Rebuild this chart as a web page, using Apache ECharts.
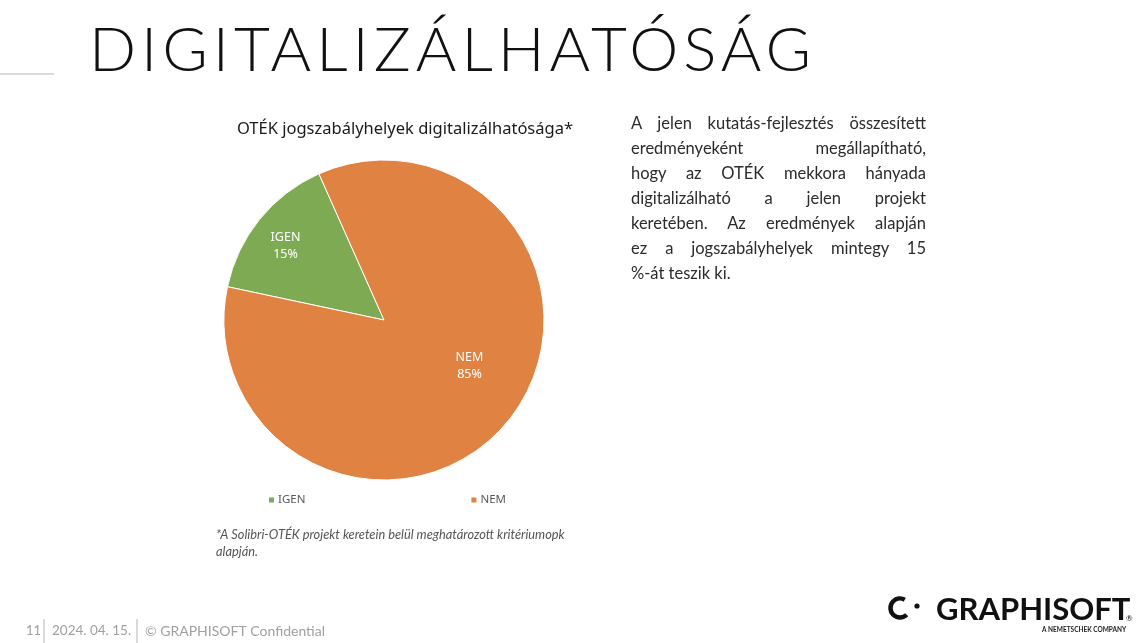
<!DOCTYPE html>
<html>
<head>
<meta charset="utf-8">
<script src="https://cdn.jsdelivr.net/npm/echarts@6/dist/echarts.min.js"></script>
<style>
  html, body { margin:0; padding:0; background:#fff; }
  #wrap { position:relative; width:1148px; height:643px; overflow:hidden; }
  #chart { position:absolute; left:0; top:0; width:1148px; height:643px; }
  #headline { position:absolute; left:89px; top:12px; font-family:Lato, "Open Sans", sans-serif; font-weight:300; font-size:62px; letter-spacing:5px; color:#111; line-height:70px; white-space:nowrap; }
  #para { position:absolute; left:631px; top:111px; width:295px; font-family:Lato, "Noto Sans", sans-serif; font-size:16.5px; line-height:25px; color:#2b2b2b; }
  #para div { text-align:justify; text-align-last:justify; }
  #para div.last { text-align-last:left; }
</style>
</head>
<body>
<div id="wrap">
  <div id="chart"></div>
  <div id="headline">DIGITALIZÁLHATÓSÁG</div>
  <div id="para">
    <div>A jelen kutatás-fejlesztés összesített</div>
    <div>eredményeként megállapítható,</div>
    <div>hogy az OTÉK mekkora hányada</div>
    <div>digitalizálható a jelen projekt</div>
    <div>keretében. Az eredmények alapján</div>
    <div>ez a jogszabályhelyek mintegy 15</div>
    <div class="last">%-át teszik ki.</div>
  </div>
</div>
<script>
// ---- data ----
const categories = ['IGEN', 'NEM'];
const values = [15, 85];
const sliceColors = ['#7DAA53', '#E08241'];
const chartTitle = 'OTÉK jogszabályhelyek digitalizálhatósága*';
const footnoteLines = ['*A Solibri-OTÉK projekt keretein belül meghatározott kritériumopk', 'alapján.'];
const footerText = ['11', '2024. 04. 15.', '© GRAPHISOFT Confidential'];

const chart = echarts.init(document.getElementById('chart'), null, { renderer: 'canvas' });

// label nudges (style only), per slice index
const labelNudge = [[-34, -22], [21, -6]];

const option = {
  backgroundColor: '#ffffff',
  animation: false,
  title: {
    text: chartTitle,
    left: 400, top: 116, textAlign: 'center',
    textStyle: { fontFamily: '"Noto Sans", sans-serif', fontSize: 16.5, fontWeight: 'normal', color: '#1a1a1a' }
  },
  legend: {
    data: categories,
    left: 262, top: 489,
    itemWidth: 7, itemHeight: 7, itemGap: 164,
    icon: 'rect',
    textStyle: { fontFamily: '"Noto Sans", sans-serif', fontSize: 11.5, color: '#595959', padding: [0, 0, 0, -2] }
  },
  series: [{
    type: 'pie',
    center: [384, 320],
    radius: 160,
    startAngle: 168,
    clockwise: true,
    avoidLabelOverlap: false,
    itemStyle: { borderColor: '#ffffff', borderWidth: 1 },
    label: {
      show: true, position: 'inside',
      formatter: '{b}\n{c}%',
      color: '#ffffff', fontFamily: '"Noto Sans", sans-serif', fontSize: 12.5, lineHeight: 17
    },
    labelLayout: function (params) {
      const n = labelNudge[params.dataIndex] || [0, 0];
      return { dx: n[0], dy: n[1] };
    },
    labelLine: { show: false },
    emphasis: { disabled: true },
    data: categories.map((c, i) => ({
      name: c, value: values[i],
      itemStyle: { color: sliceColors[i] }
    }))
  }],
  graphic: [
    { type: 'line', shape: { x1: 0, y1: 74, x2: 54, y2: 74 }, style: { stroke: '#cfcfcf', lineWidth: 1.5 } },
    { type: 'text', left: 216, top: 526, style: { text: footnoteLines.join('\n'), fontFamily: 'Lato, sans-serif', fontStyle: 'italic', fontSize: 12.8, lineHeight: 17, fill: '#555' } },
    { type: 'text', left: 26, top: 624, style: { text: footerText[0], fontFamily: 'Lato, sans-serif', fontSize: 13, fill: '#a0a0a0' } },
    { type: 'line', shape: { x1: 44, y1: 619, x2: 44, y2: 643 }, style: { stroke: '#b5b5b5', lineWidth: 1 } },
    { type: 'text', left: 52, top: 624, style: { text: footerText[1], fontFamily: 'Lato, sans-serif', fontSize: 13.5, fill: '#a0a0a0' } },
    { type: 'line', shape: { x1: 137, y1: 619, x2: 137, y2: 643 }, style: { stroke: '#b5b5b5', lineWidth: 1 } },
    { type: 'text', left: 145, top: 624, style: { text: footerText[2], fontFamily: 'Lato, sans-serif', fontSize: 14, fill: '#a0a0a0' } },
    // logo
    { type: 'arc', shape: { cx: 900, cy: 608, r: 9.5, startAngle: Math.PI / 4, endAngle: Math.PI * 5 / 3, clockwise: true }, style: { stroke: '#111', fill: 'none', lineWidth: 4.5 } },
    { type: 'circle', shape: { cx: 917, cy: 606, r: 2.6 }, style: { fill: '#111' } },
    { type: 'text', left: 936, top: 594, style: { text: 'GRAPHISOFT', fontFamily: 'Lato, sans-serif', fontWeight: 'bold', fontSize: 31, fill: '#111' } },
    { type: 'text', left: 1126, top: 614, style: { text: '®', fontFamily: 'Lato, sans-serif', fontSize: 8, fill: '#111' } },
    { type: 'text', left: 1042, top: 626, style: { text: 'A NEMETSCHEK COMPANY', fontFamily: 'Lato, sans-serif', fontWeight: 'bold', fontSize: 6.5, fill: '#222' } }
  ]
};
chart.setOption(option);
</script>
</body>
</html>
